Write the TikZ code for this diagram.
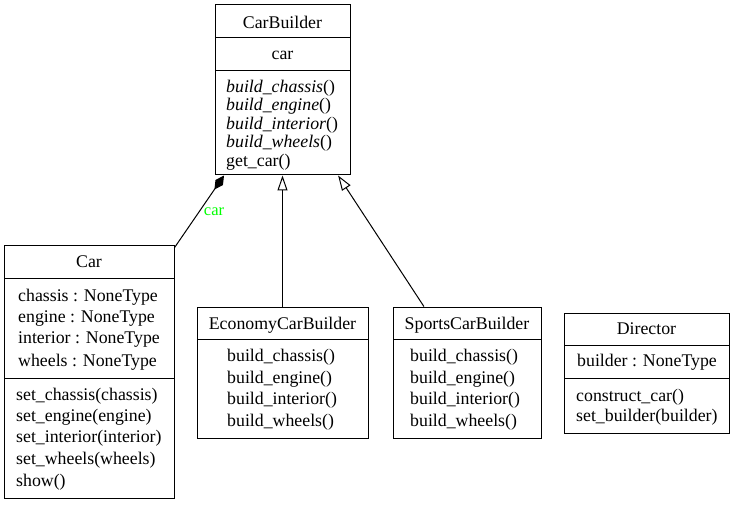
\documentclass[tikz,border=0pt]{standalone}
\usepackage{fontspec}
\setmainfont{Liberation Serif}
\usetikzlibrary{arrows.meta}
\definecolor{lbl}{RGB}{0,255,0}
\begin{document}
\begin{tikzpicture}[x=1pt,y=-1pt,
  classbox/.style={draw, line width=1pt, inner sep=0pt},
  txt/.style={inner sep=0pt, font=\fontsize{17.8}{20}\selectfont},
  lt/.style={txt, anchor=west},
  it/.style={lt, font=\fontsize{17.8}{20}\selectfont\itshape},
  div/.style={line width=1pt},
  edge/.style={line width=1pt},
  inherit/.style={edge, -{Triangle[open, length=15pt, width=10pt]}},
  compose/.style={edge, {Diamond[length=17pt, width=9pt, fill=black]}-}
]
\useasboundingbox (0,0) rectangle (734,505);

% CarBuilder
\node[classbox, minimum width=135pt, minimum height=170pt] (CarBuilder) at (282.5,90) {};
\draw[div] (215,38) -- (350,38);
\draw[div] (215,71) -- (350,71);
\node[txt] (cbt) at (282.5,22) {CarBuilder};
\node[txt] (cba) at (282.5,55) {car};
\node[it] (cb1) at (226,88) {build\_chassis\textup{()}};
\node[it] (cb2) at (226,106.5) {build\_engine\textup{()}};
\node[it] (cb3) at (226,125) {build\_interior\textup{()}};
\node[it] (cb4) at (226,143.5) {build\_wheels\textup{()}};
\node[lt] (cb5) at (226,162) {get\_car()};

% Car
\node[classbox, minimum width=170pt, minimum height=252pt] (Car) at (89,372) {};
\draw[div] (4,279) -- (174,279);
\draw[div] (4,378) -- (174,378);
\node[txt] (ct) at (89,262) {Car};
\node[lt] (ca1) at (18,297) {chassis : NoneType};
\node[lt] (ca2) at (18,319) {engine : NoneType};
\node[lt] (ca3) at (18,340) {interior : NoneType};
\node[lt] (ca4) at (18,362) {wheels : NoneType};
\node[lt] (cm1) at (16,396) {set\_chassis(chassis)};
\node[lt] (cm2) at (16,417) {set\_engine(engine)};
\node[lt] (cm3) at (16,438.5) {set\_interior(interior)};
\node[lt] (cm4) at (16,460) {set\_wheels(wheels)};
\node[lt] (cm5) at (16,482) {show()};

% EconomyCarBuilder
\node[classbox, minimum width=171pt, minimum height=131pt] (Eco) at (282.5,372.5) {};
\draw[div] (197,339) -- (368,339);
\node[txt] (et) at (282.5,325.5) {EconomyCarBuilder};
\node[lt] (e1) at (227,357.5) {build\_chassis()};
\node[lt] (e2) at (227,379) {build\_engine()};
\node[lt] (e3) at (227,400.5) {build\_interior()};
\node[lt] (e4) at (227,422) {build\_wheels()};

% SportsCarBuilder
\node[classbox, minimum width=148pt, minimum height=131pt] (Sport) at (467,372.5) {};
\draw[div] (393,339) -- (541,339);
\node[txt] (st) at (467,325.5) {SportsCarBuilder};
\node[lt] (s1) at (410,357.5) {build\_chassis()};
\node[lt] (s2) at (410,379) {build\_engine()};
\node[lt] (s3) at (410,400.5) {build\_interior()};
\node[lt] (s4) at (410,422) {build\_wheels()};

% Director
\node[classbox, minimum width=165pt, minimum height=120pt] (Dir) at (646.5,373) {};
\draw[div] (564,345) -- (729,345);
\draw[div] (564,378) -- (729,378);
\node[txt] (dt) at (646.5,329) {Director};
\node[lt] (da) at (577,362) {builder : NoneType};
\node[lt] (d1) at (576,397) {construct\_car()};
\node[lt] (d2) at (576,417) {set\_builder(builder)};

% edges
\draw[compose] (CarBuilder) -- (Car);
\node[txt, text=lbl, font=\fontsize{16.5}{18}\selectfont] (carlbl) at (214,212) {car};
\draw[inherit] (Eco) -- (CarBuilder);
\draw[inherit] (Sport) -- (CarBuilder);
\end{tikzpicture}
\end{document}
